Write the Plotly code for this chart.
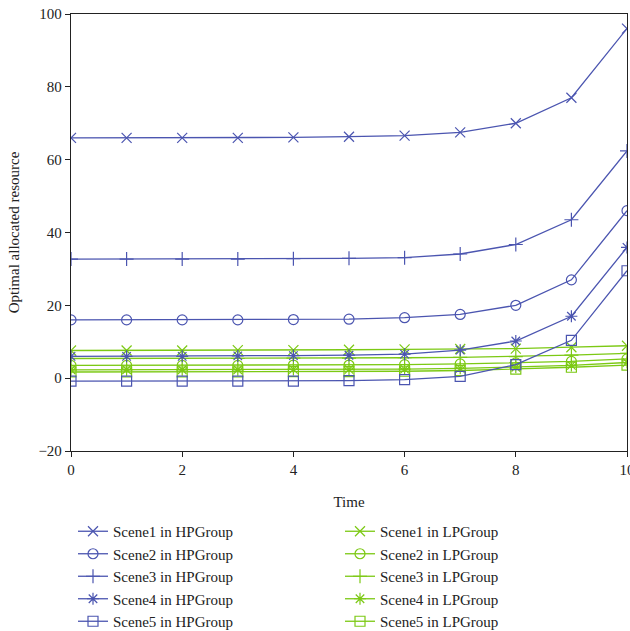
import plotly.graph_objects as go

time = list(range(0, 11))

hp_scene1 = [66.0, 66.0, 66.0, 66.0, 66.1, 66.3, 66.6, 67.5, 70.0, 77.0, 96.0]
hp_scene2 = [16.0, 16.0, 16.0, 16.0, 16.1, 16.2, 16.6, 17.5, 20.0, 27.0, 46.0]
hp_scene3 = [32.7, 32.7, 32.7, 32.7, 32.8, 32.9, 33.1, 34.1, 36.7, 43.5, 62.4]
hp_scene4 = [6.0, 6.0, 6.0, 6.1, 6.2, 6.3, 6.6, 7.7, 10.2, 17.0, 35.9]
hp_scene5 = [-0.8, -0.8, -0.8, -0.8, -0.8, -0.7, -0.4, 0.5, 3.7, 10.4, 29.5]

lp_scene1 = [7.6, 7.6, 7.6, 7.7, 7.7, 7.8, 7.9, 8.0, 8.1, 8.5, 8.9]
lp_scene2 = [3.5, 3.5, 3.5, 3.5, 3.6, 3.6, 3.7, 3.9, 4.2, 4.6, 5.3]
lp_scene3 = [5.4, 5.4, 5.4, 5.4, 5.5, 5.5, 5.6, 5.7, 5.9, 6.3, 6.8]
lp_scene4 = [2.3, 2.3, 2.3, 2.3, 2.4, 2.4, 2.5, 2.7, 3.0, 3.5, 4.3]
lp_scene5 = [1.7, 1.7, 1.7, 1.7, 1.8, 1.8, 1.9, 2.1, 2.5, 3.0, 3.6]

names_hp = ["Scene1 in HPGroup", "Scene2 in HPGroup", "Scene3 in HPGroup",
            "Scene4 in HPGroup", "Scene5 in HPGroup"]
names_lp = ["Scene1 in LPGroup", "Scene2 in LPGroup", "Scene3 in LPGroup",
            "Scene4 in LPGroup", "Scene5 in LPGroup"]
symbols = ["x-thin-open", "circle-open", "cross-thin-open", "asterisk-open", "square-open"]

BLUE = "#4b55b0"
GREEN = "#7cc914"
FONT = "Liberation Serif"

fig = go.Figure()
hp = [hp_scene1, hp_scene2, hp_scene3, hp_scene4, hp_scene5]
lp = [lp_scene1, lp_scene2, lp_scene3, lp_scene4, lp_scene5]

for vals, name, sym in zip(lp, names_lp, symbols):
    fig.add_trace(go.Scatter(
        x=time, y=vals, name=name, mode="lines+markers", legend="legend2",
        line=dict(color=GREEN, width=1.3),
        marker=dict(symbol=sym, size=10, color=GREEN, line=dict(color=GREEN, width=1.2)),
    ))
for vals, name, sym in zip(hp, names_hp, symbols):
    fig.add_trace(go.Scatter(
        x=time, y=vals, name=name, mode="lines+markers", legend="legend",
        line=dict(color=BLUE, width=1.3),
        marker=dict(symbol=sym, size=10, color=BLUE, line=dict(color=BLUE, width=1.2)),
    ))

axis_common = dict(
    showline=True, linecolor="#222", linewidth=1.3, mirror=True,
    ticks="outside", ticklen=5, tickcolor="#222", tickwidth=1,
    showgrid=False, zeroline=False, ticklabeloverflow="allow",
    tickfont=dict(family=FONT, size=15, color="#222"),
)

fig.update_layout(
    width=630, height=631,
    margin=dict(l=71, r=3, t=14, b=180, autoexpand=False),
    paper_bgcolor="white", plot_bgcolor="white",
    font=dict(family=FONT, size=15, color="#222"),
    xaxis=dict(range=[0, 10], dtick=2, tick0=0, automargin=False,
               title=dict(text="Time", font=dict(family=FONT, size=15), standoff=19),
               **axis_common),
    yaxis=dict(range=[-20, 100], dtick=20, tick0=0, automargin=False,
               title=dict(text="Optimal allocated resource", font=dict(family=FONT, size=15), standoff=15),
               **axis_common),
    legend=dict(x=(73 - 71) / 556, y=(451 - 515) / 437, xanchor="left", yanchor="top",
                orientation="v", traceorder="normal",
                font=dict(family=FONT, size=15, color="#222"), bgcolor="rgba(0,0,0,0)"),
    legend2=dict(x=(340 - 71) / 556, y=(451 - 515) / 437, xanchor="left", yanchor="top",
                 orientation="v", traceorder="normal",
                 font=dict(family=FONT, size=15, color="#222"), bgcolor="rgba(0,0,0,0)"),
)

fig.write_html("out.html", config={"displayModeBar": False},
               post_script="document.body.style.margin='0';document.body.style.overflow='hidden';")
